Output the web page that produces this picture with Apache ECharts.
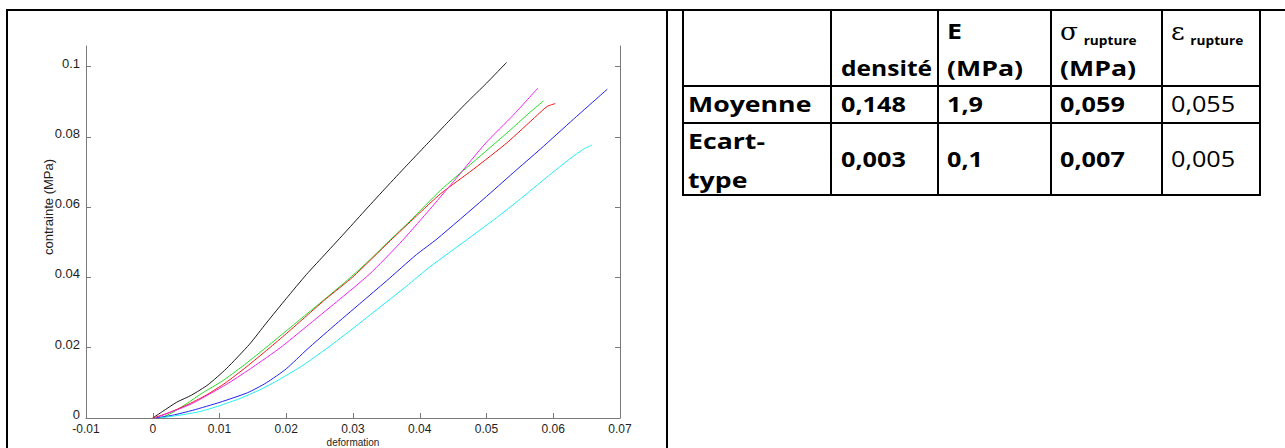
<!DOCTYPE html>
<html>
<head>
<meta charset="utf-8">
<script src="https://cdn.jsdelivr.net/npm/echarts@6/dist/echarts.min.js"></script>
<style>
html,body{margin:0;padding:0;background:#fff;}
#wrap{position:relative;width:1285px;height:448px;overflow:hidden;background:#fff;}
#chart{position:absolute;left:0;top:0;width:1285px;height:448px;}
.ln{position:absolute;background:#000;}
.tx{position:absolute;white-space:nowrap;font-family:'Open Sans',sans-serif;font-weight:700;font-size:21px;color:#000;line-height:1;transform-origin:0 50%;}
.tx.reg{font-weight:400;}
.sym{font-family:'DejaVu Serif','Liberation Serif',serif;font-size:25px;font-weight:400;}
.sub{font-size:13px;font-weight:700;position:relative;top:5px;}
</style>
</head>
<body>
<div id="wrap"><div id="chart"></div></div>
<script>
// ---------- chart data ----------
const xTicks = [-0.01, 0, 0.01, 0.02, 0.03, 0.04, 0.05, 0.06, 0.07];
const yTicks = [0, 0.02, 0.04, 0.06, 0.08, 0.1];
const xName = 'deformation';
const yName = 'contrainte (MPa)';

const curveBlack = [[0,0],[0.0015,0.0019],[0.0036,0.0045],[0.0058,0.0065],[0.0083,0.0095],[0.011,0.0140],[0.0145,0.0210],[0.017,0.0270],[0.020,0.0340],[0.023,0.0408],[0.026,0.0470],[0.029,0.0532],[0.032,0.0595],[0.035,0.0657],[0.038,0.0718],[0.041,0.0778],[0.044,0.0838],[0.047,0.0897],[0.050,0.0953],[0.053,0.1012]];
const curveGreen = [[0.0012,0],[0.003,0.0016],[0.005,0.0040],[0.0075,0.0072],[0.0104,0.0105],[0.0135,0.0148],[0.0166,0.0195],[0.020,0.0248],[0.023,0.0295],[0.026,0.0342],[0.0295,0.0398],[0.0325,0.0450],[0.0353,0.0502],[0.0385,0.0560],[0.0431,0.0648],[0.0481,0.0730],[0.0531,0.0812],[0.0565,0.0870],[0.0585,0.0902]];
const curveRed = [[0,0],[0.002,0.0012],[0.005,0.0036],[0.008,0.0065],[0.0109,0.0100],[0.014,0.0145],[0.0174,0.0198],[0.020,0.0240],[0.023,0.0290],[0.026,0.0340],[0.030,0.0402],[0.0356,0.0505],[0.0395,0.0575],[0.0431,0.0638],[0.0481,0.0709],[0.0531,0.0784],[0.0576,0.0862],[0.0591,0.0887],[0.0603,0.0895]];
const curveMagenta = [[0.0005,0],[0.002,0.0012],[0.004,0.0026],[0.006,0.0042],[0.0085,0.0068],[0.0114,0.0100],[0.015,0.0145],[0.0191,0.0200],[0.023,0.0260],[0.0275,0.0330],[0.0325,0.0410],[0.0370,0.0497],[0.0411,0.0585],[0.0455,0.0683],[0.0499,0.0783],[0.0540,0.0862],[0.0577,0.0939]];
const curveBlue = [[0.0005,0],[0.003,0.0008],[0.006,0.0022],[0.0101,0.0045],[0.0142,0.0072],[0.0170,0.0100],[0.0200,0.0140],[0.0231,0.0195],[0.027,0.0260],[0.031,0.0325],[0.035,0.0390],[0.0395,0.0465],[0.0426,0.0510],[0.0496,0.0624],[0.0540,0.0698],[0.0581,0.0766],[0.0630,0.0850],[0.0681,0.0936]];
const curveCyan = [[0.001,0],[0.004,0.0008],[0.007,0.0018],[0.010,0.0035],[0.013,0.0055],[0.016,0.0080],[0.019,0.0110],[0.0225,0.0150],[0.0262,0.0200],[0.030,0.0255],[0.034,0.0315],[0.038,0.0375],[0.0415,0.0430],[0.0476,0.0515],[0.0515,0.0570],[0.0551,0.0624],[0.0590,0.0685],[0.0625,0.0738],[0.0645,0.0765],[0.0658,0.0777]];

// ---------- table data ----------
const rowNames = ['Moyenne', 'Ecart-type'];
const meanValues = ['0,148', '1,9', '0,059', '0,055'];
const stdValues = ['0,003', '0,1', '0,007', '0,005'];
const boldColumns = [true, true, true, false];

// ---------- chart ----------
const axisGrey = '#7a7a7a';
const labelFont = {fontFamily: '"Liberation Sans", Arial, sans-serif', fontSize: 13, color: '#1e1e1e'};
const chart = echarts.init(document.getElementById('chart'), null, {renderer: 'svg'});
const mk = (data, color) => ({type: 'line', data: data, showSymbol: false, symbol: 'none', smooth: 0.2,
  lineStyle: {color: color, width: 1}, itemStyle: {color: color}, animation: false});
chart.setOption({
  animation: false,
  backgroundColor: 'transparent',
  grid: {left: 86, top: 46, width: 534, height: 372, show: false, containLabel: false, outerBoundsMode: 'none'},
  xAxis: {
    type: 'value', min: xTicks[0], max: xTicks[xTicks.length - 1], interval: 0.01,
    axisLine: {show: true, onZero: false, lineStyle: {color: axisGrey, width: 1}},
    axisTick: {show: true, inside: true, length: 5, lineStyle: {color: axisGrey}},
    axisLabel: Object.assign({}, labelFont, {margin: 5, fontSize: 12}),
    splitLine: {show: false}
  },
  yAxis: [{
    type: 'value', min: 0, max: 0.10589, position: 'left',
    axisLine: {show: true, onZero: false, lineStyle: {color: axisGrey, width: 1}},
    axisTick: {show: true, inside: true, length: 5, lineStyle: {color: axisGrey}, customValues: yTicks},
    axisLabel: Object.assign({margin: 6, customValues: yTicks}, labelFont, {verticalAlign: 'bottom', padding: [0, 0, -3, 0]}),
    splitLine: {show: false}
  }, {
    type: 'value', min: 0, max: 0.10589, position: 'right',
    axisLine: {show: true, onZero: false, lineStyle: {color: axisGrey, width: 1}},
    axisTick: {show: true, inside: true, length: 5, lineStyle: {color: axisGrey}, customValues: yTicks},
    axisLabel: {show: false},
    splitLine: {show: false}
  }],
  graphic: [{
    type: 'text', x: 48, y: 207, rotation: Math.PI / 2,
    style: {text: yName, font: '13px "Liberation Sans", Arial, sans-serif', fill: '#1e1e1e', align: 'center', verticalAlign: 'middle'}
  }, {
    type: 'text', x: 353, y: 442.5,
    style: {text: xName, font: '10px "Liberation Sans", Arial, sans-serif', fill: '#1e1e1e', align: 'center', verticalAlign: 'middle'}
  }],
  series: [
    mk(curveBlack, '#1a1a1a'),
    mk(curveGreen, '#22dd22'),
    mk(curveRed, '#f01818'),
    mk(curveMagenta, '#f020f0'),
    mk(curveBlue, '#2020f0'),
    mk(curveCyan, '#20eeee')
  ]
});

// ---------- frame and table ----------
const wrap = document.getElementById('wrap');
function line(x, y, w, h) {
  const d = document.createElement('div'); d.className = 'ln';
  d.style.left = x + 'px'; d.style.top = y + 'px'; d.style.width = w + 'px'; d.style.height = h + 'px';
  wrap.appendChild(d);
}
function text(html, x, cy, cls, sx) {
  const d = document.createElement('div'); d.className = 'tx' + (cls ? ' ' + cls : '');
  d.innerHTML = html;
  d.style.left = x + 'px'; d.style.top = cy + 'px';
  d.style.transform = 'translateY(-50%) scaleX(' + (sx || 1.27) + ')';
  wrap.appendChild(d);
}
// page frame
line(6, 9, 1279, 2);
line(6, 9, 2, 439);
line(666, 9, 2, 439);
// table grid
const colX = [682, 830, 937, 1050, 1161, 1259];
const rowY = [9, 85, 122, 194];
colX.forEach(x => line(x, 9, 2, 187));
rowY.forEach(y => line(682, y, 579, 2));

const textX = [688, 841, 947, 1060, 1171];
// header
text('densité', textX[1], 68, '', 1.17);
text('E', textX[2], 31);
text('(MPa)', textX[2], 68);
text('<span class="sym">σ</span> <span class="sub">rupture</span>', textX[3], 31, '', 1.05);
text('(MPa)', textX[3], 68);
text('<span class="sym">ε</span> <span class="sub">rupture</span>', textX[4], 31, '', 1.05);
// rows
text(rowNames[0], textX[0], 104);
text('Ecart-', textX[0], 141);
text('type', textX[0], 180);
meanValues.forEach((v, i) => text(v, textX[i + 1], 104, boldColumns[i] ? '' : 'reg', 1.2));
stdValues.forEach((v, i) => text(v, textX[i + 1], 159, boldColumns[i] ? '' : 'reg', 1.2));
</script>
</body>
</html>
